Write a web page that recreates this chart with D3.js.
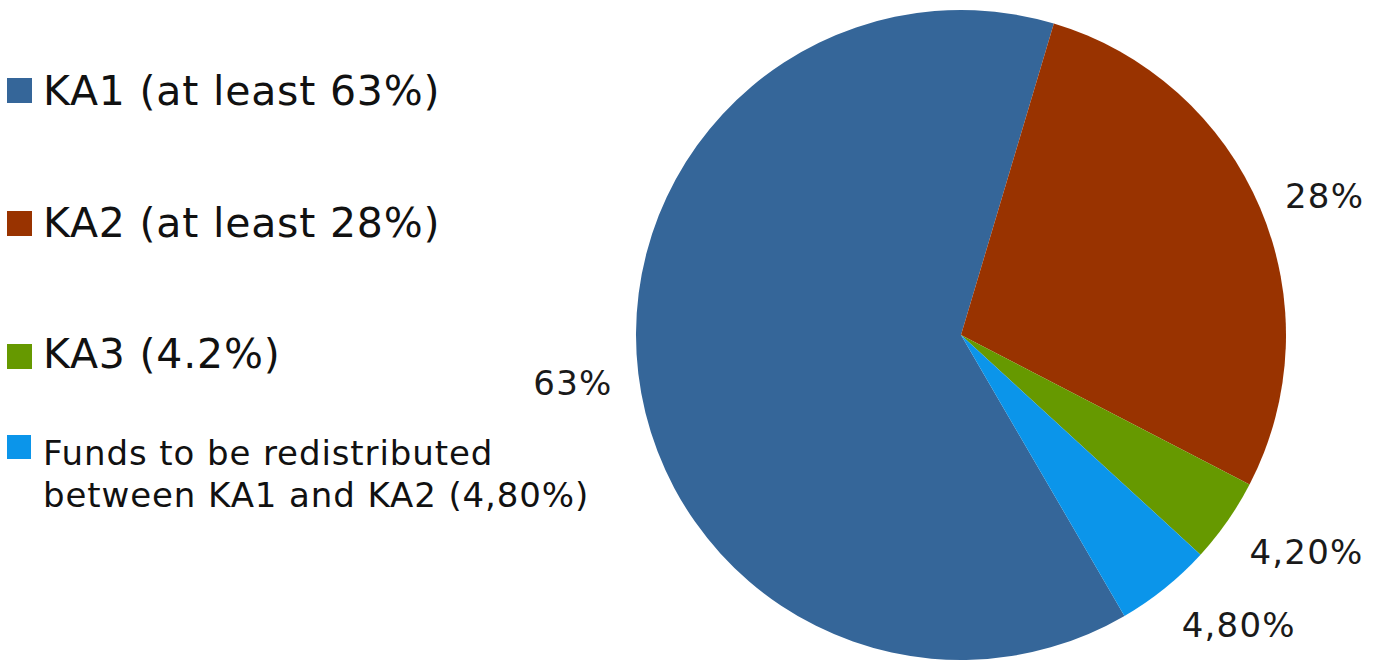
<!DOCTYPE html>
<html>
<head>
<meta charset="utf-8">
<script src="https://cdn.jsdelivr.net/npm/d3@7"></script>
<style>
  html, body { margin: 0; padding: 0; background: #ffffff; }
  svg { display: block; }
</style>
</head>
<body>
<svg id="chart" width="1374" height="664"></svg>
<script>
// ---- data ----
const categories = ["KA1", "KA2", "KA3", "Funds"];
const values = [63, 28, 4.2, 4.8];
const sliceLabels = ["63%", "28%", "4,20%", "4,80%"];
const legendLabels = [
  ["KA1 (at least 63%)"],
  ["KA2 (at least 28%)"],
  ["KA3 (4.2%)"],
  ["Funds to be redistributed", "between KA1 and KA2 (4,80%)"]
];
const colors = ["#356699", "#993300", "#669900", "#0B95EA"];

// ---- layout ----
const W = 1374, H = 664;
const cx = 961, cy = 335, R = 325;
const labelR = 352;
const firstBoundaryDeg = 16.6; // end of KA1 / start of KA2
const startAngle = (firstBoundaryDeg - values[0] / d3.sum(values) * 360) * Math.PI / 180;

const svg = d3.select("#chart");
const color = d3.scaleOrdinal().domain(categories).range(colors);

const pie = d3.pie().sort(null).value(d => d.value)
  .startAngle(startAngle).endAngle(startAngle + 2 * Math.PI);
const data = categories.map((c, i) => ({ key: c, value: values[i], label: sliceLabels[i] }));
const arcs = pie(data);
const arc = d3.arc().innerRadius(0).outerRadius(R);
const labelArc = d3.arc().innerRadius(labelR).outerRadius(labelR);

const g = svg.append("g").attr("transform", `translate(${cx},${cy})`);
g.selectAll("path.slice").data(arcs).enter().append("path")
  .attr("class", "slice")
  .attr("d", arc)
  .attr("fill", d => color(d.data.key));

const labelSize = 34;
g.selectAll("text.plabel").data(arcs).enter().append("text")
  .attr("class", "plabel")
  .attr("font-family", "'DejaVu Sans', Verdana, sans-serif")
  .attr("font-size", labelSize)
  .attr("letter-spacing", 1.2)
  .attr("fill", "#1a1a1a")
  .each(function(d) {
    const mid = (d.startAngle + d.endAngle) / 2;
    const [px, py] = labelArc.centroid(d);
    const down = Math.min(1, 4 * Math.max(0, -Math.cos(mid)));
    const yCenter = py + 17 * down;
    const right = Math.sin(mid) >= 0;
    d3.select(this)
      .attr("x", right ? px : px + 1)
      .attr("y", yCenter + labelSize * 0.729 / 2 - 2)
      .attr("text-anchor", right ? "start" : "end")
      .text(d.data.label);
  });

// ---- legend ----
const legendRows = [
  { y: 78, size: 25, font: 41, spacing: 0.8, baselines: [105] },
  { y: 211, size: 25, font: 41, spacing: 0.8, baselines: [237] },
  { y: 344, size: 25, font: 41, spacing: 0.8, baselines: [368] },
  { y: 435, size: 24, font: 34, spacing: 0.9, baselines: [465, 507] }
];
const legend = svg.append("g");
categories.forEach((c, i) => {
  const row = legendRows[i];
  legend.append("rect")
    .attr("x", 7).attr("y", row.y)
    .attr("width", row.size).attr("height", row.size)
    .attr("fill", color(c));
  const t = legend.append("text")
    .attr("font-family", "'DejaVu Sans', Verdana, sans-serif")
    .attr("font-size", row.font)
    .attr("letter-spacing", row.spacing)
    .attr("fill", "#111111");
  legendLabels[i].forEach((line, j) => {
    t.append("tspan").attr("x", 43).attr("y", row.baselines[j]).text(line);
  });
});
</script>
</body>
</html>
